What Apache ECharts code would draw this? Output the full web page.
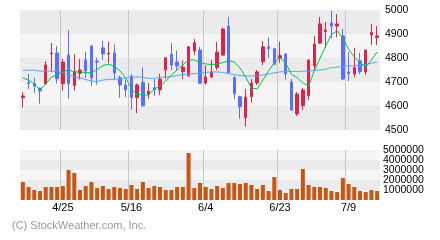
<!DOCTYPE html>
<html><head><meta charset="utf-8">
<script src="https://cdn.jsdelivr.net/npm/echarts@6/dist/echarts.min.js"></script>
<style>html,body{margin:0;padding:0;background:#fff}#c{width:440px;height:240px}</style>
</head><body><div id="c"></div>
<script>
const dates = ['4/16','4/17','4/18','4/21','4/22','4/23','4/24','4/25','4/28','4/30','5/1','5/2','5/7','5/8','5/9','5/12','5/13','5/14','5/15','5/16','5/19','5/20','5/21','5/22','5/23','5/26','5/27','5/28','5/29','5/30','6/2','6/3','6/4','6/5','6/6','6/9','6/10','6/11','6/12','6/13','6/16','6/17','6/18','6/19','6/20','6/23','6/24','6/25','6/26','6/27','6/30','7/1','7/2','7/3','7/4','7/7','7/8','7/9','7/10','7/11','7/14','7/15','7/16'];
const labelDates = ['4/25','5/16','6/4','6/23','7/9'];
const opens  = [4635,4697,4694,4675,4692,4817,4821,4693,4812,4685,4736,4792,4850,4787,4842,4817,4821,4718,4688,4725,4635,4699,4649,4676,4667,4750,4815,4783,4743,4726,4829,4833,4696,4721,4760,4812,4933,4718,4639,4551,4639,4696,4785,4847,4839,4799,4817,4700,4567,4601,4643,4767,4862,4910,4946,4933,4892,4742,4733,4788,4742,4896,4885];
const closes = [4642,4693,4683,4663,4771,4820,4714,4783,4693,4743,4750,4746,4718,4783,4817,4820,4738,4688,4667,4635,4688,4601,4662,4668,4712,4801,4771,4767,4762,4847,4864,4695,4721,4742,4825,4921,4739,4651,4597,4637,4696,4742,4847,4839,4774,4810,4734,4583,4650,4667,4792,4858,4942,4917,4933,4942,4712,4735,4760,4743,4833,4907,4892];
const lows   = [4593,4670,4655,4610,4690,4743,4694,4664,4630,4664,4711,4717,4684,4689,4792,4778,4711,4635,4637,4585,4570,4597,4630,4642,4645,4713,4750,4748,4713,4722,4812,4692,4688,4717,4750,4808,4735,4630,4547,4514,4614,4688,4771,4800,4771,4779,4710,4579,4558,4583,4625,4750,4858,4842,4883,4887,4708,4704,4720,4733,4730,4854,4854];
const highs  = [4658,4733,4717,4676,4787,4862,4850,4796,4917,4815,4795,4825,4852,4801,4871,4867,4857,4726,4710,4733,4694,4760,4695,4712,4734,4803,4862,4830,4790,4849,4879,4846,4768,4792,4867,4926,4971,4726,4643,4670,4713,4750,4870,4886,4843,4868,4818,4712,4658,4675,4793,4892,4971,4950,4996,4983,4921,4825,4843,4822,4835,4942,4933];
const maShort = [4717,4708,4692,4667,4692,4721,4729,4742,4750,4742,4742,4739,4739,4752,4769,4774,4765,4746,4717,4671,4648,4646,4646,4671,4683,4704,4729,4750,4771,4792,4792,4781,4775,4773,4775,4781,4788,4783,4758,4721,4675,4671,4708,4746,4779,4803,4778,4733,4717,4696,4683,4746,4799,4850,4898,4913,4883,4837,4804,4781,4762,4792,4825];
const maLong = [4749,4749,4749,4745,4745,4745,4745,4738,4729,4723,4717,4710,4704,4702,4708,4711,4711,4713,4717,4721,4721,4719,4715,4715,4720,4720,4723,4727,4731,4733,4735,4738,4740,4742,4742,4740,4735,4731,4727,4725,4725,4725,4729,4733,4738,4742,4744,4744,4744,4745,4746,4748,4750,4753,4760,4762,4765,4767,4768,4770,4773,4778,4783];
const volumes = [1800000,1300000,1000000,900000,1300000,1300000,1300000,1400000,3000000,2700000,1000000,1400000,1800000,1200000,1400000,1100000,1300000,1200000,1100000,1500000,1100000,1800000,1200000,1400000,1300000,1000000,1000000,1300000,1300000,4700000,1200000,1700000,1300000,1100000,1400000,1200000,1700000,1700000,1600000,1700000,1500000,1100000,1500000,900000,2300000,1000000,700000,1100000,1100000,3100000,1500000,1300000,1300000,1200000,900000,800000,2200000,1600000,1300000,900000,800000,1000000,900000];
const volTicksOdd = [1000000, 5000000];   // 1M, 3M, 5M (interval 2M)
const volTicksEven = [2000000, 4000000];  // 2M, 4M

const FONT = 'Liberation Sans';
const isLabel = (i) => labelDates.indexOf(dates[i]) >= 0;
const chart = echarts.init(document.getElementById('c'), null, {renderer: 'canvas'});
const xBase = (gi, showLabel) => ({
  gridIndex: gi, type: 'category', data: dates, boundaryGap: true,
  axisLine: {show: false}, axisTick: {show: false},
  axisLabel: {show: showLabel, interval: (i) => isLabel(i), color: '#000', fontSize: 11, fontFamily: FONT, margin: 2},
  splitLine: {show: true, interval: (i) => isLabel(i), showMaxLine: false, lineStyle: {color: '#c8c8c8', width: 1}}
});
const xHidden = (gi) => ({gridIndex: gi, type: 'category', data: dates, show: false});
const plain = (v) => String(v);
const labelAxis = (gi, mn, mx) => ({
  gridIndex: gi, type: 'value', position: 'right', min: mn, max: mx, interval: 2000000,
  axisLine: {show: false}, axisTick: {show: false}, splitLine: {show: false},
  axisLabel: {color: '#000', fontSize: 10.5, fontFamily: FONT, margin: 3, formatter: plain,
              showMinLabel: true, showMaxLabel: true}
});
chart.setOption({
  animation: false,
  backgroundColor: '#fff',
  grid: [
    {left: 20, top: 10, width: 360, height: 120},
    {left: 20, top: 150, width: 360, height: 50},
    {left: 20, top: 150, width: 360, height: 40},
    {left: 20, top: 160, width: 360, height: 20}
  ],
  xAxis: [xBase(0, false), xBase(1, true), xHidden(2), xHidden(3)],
  yAxis: [
    {gridIndex: 0, type: 'value', position: 'right', min: 4500, max: 5000, interval: 100,
     axisLine: {show: false}, axisTick: {show: false}, splitLine: {show: false},
     splitArea: {show: true, areaStyle: {color: ['#ebebeb', '#f5f5f5']}},
     axisLabel: {color: '#000', fontSize: 10.5, fontFamily: FONT, margin: 5, formatter: plain,
                 showMaxLabel: true, showMinLabel: true}},
    {gridIndex: 1, type: 'value', position: 'right', min: 0, max: 5000000, interval: 1000000,
     axisLine: {show: false}, axisTick: {show: false}, splitLine: {show: false},
     splitArea: {show: true, areaStyle: {color: ['#f5f5f5', '#ebebeb']}},
     axisLabel: {show: false}},
    labelAxis(2, volTicksOdd[0], volTicksOdd[1]),
    labelAxis(3, volTicksEven[0], volTicksEven[1])
  ],
  series: [
    {type: 'candlestick', xAxisIndex: 0, yAxisIndex: 0, barWidth: 3,
     data: dates.map((d, i) => [opens[i], closes[i], lows[i], highs[i]]),
     itemStyle: {color: '#d6284b', color0: '#5a70f5', borderColor: '#d6284b', borderColor0: '#5a70f5', borderWidth: 1}},
    {type: 'line', xAxisIndex: 0, yAxisIndex: 0, data: maLong, symbol: 'none', z: 3,
     lineStyle: {color: '#55aaf5', width: 1}},
    {type: 'line', xAxisIndex: 0, yAxisIndex: 0, data: maShort, symbol: 'none', z: 4,
     lineStyle: {color: '#00c050', width: 1}},
    {type: 'bar', xAxisIndex: 1, yAxisIndex: 1, data: volumes, barWidth: 4,
     itemStyle: {color: '#c85514'}}
  ],
  graphic: [{type: 'text', left: 12, top: 220,
    style: {text: '(C) StockWeather.com, Inc.', fill: '#999', font: '11px "Liberation Sans"'}}]
});
</script>
</body></html>
